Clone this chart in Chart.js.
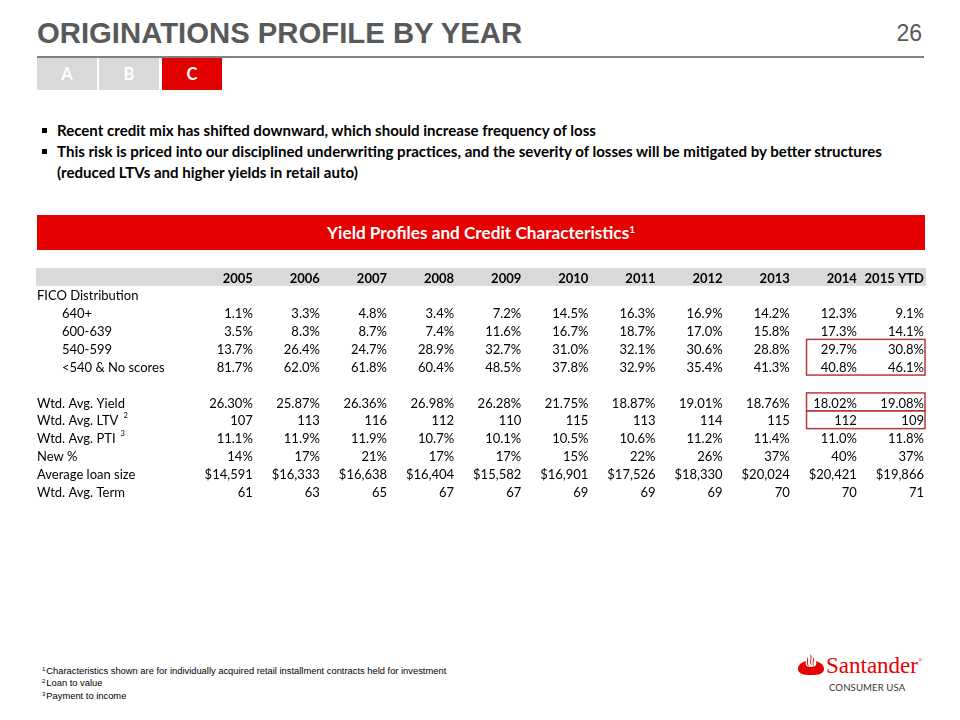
<!DOCTYPE html>
<html>
<head>
<meta charset="utf-8">
<title>Originations Profile by Year</title>
<script src="https://cdn.jsdelivr.net/npm/chart.js@4.4.1/dist/chart.umd.min.js"></script>
<style>
  html, body { margin: 0; padding: 0; background: #fff; }
  body { width: 960px; height: 720px; position: relative; overflow: hidden; font-family: Lato, "Open Sans", sans-serif; }
  .abs { position: absolute; white-space: nowrap; }
  .title { left: 37px; top: 18px; font: bold 29.3px/30px "Liberation Sans", Arial, sans-serif; color: #595959; }
  .pagenum { right: 38px; top: 21px; font: 23px/24px "Liberation Sans", Arial, sans-serif; color: #595959; }
  .rule { left: 37px; top: 56px; width: 887px; height: 2px; background: #808080; }
  .tab { top: 58px; width: 60px; height: 32px; background: #d9d9d9; color: #fff; font: bold 16.5px/32px Lato, sans-serif; text-align: center; }
  .tab.on { background: #e30000; }
  .bullet { left: 57px; font: bold 15.05px/21px Lato, sans-serif; color: #000; }
  .bullet .sq { position: absolute; left: -15px; top: 8px; width: 5px; height: 5px; background: #000; }
  .band { left: 37px; top: 215px; width: 888px; height: 35px; background: #e60000; color: #fff; font: bold 17.2px/35px Lato, sans-serif; text-align: center; }
  .band sup { font-size: 10px; vertical-align: 6px; line-height: 0; }
  #wrap { position: absolute; left: 36px; top: 268px; width: 890px; height: 232px; }
  .notes { left: 42px; top: 665px; font: 9.35px/12.4px "Liberation Sans", Arial, sans-serif; color: #000; }
  .notes sup { font-size: 6px; vertical-align: 3px; line-height: 0; margin-right: 1px; }
  .brand { left: 826px; top: 653px; font: 23px/26px "Liberation Serif", serif; color: #e60000; }
  .brand sup { font-size: 6px; vertical-align: 11px; line-height: 0; }
  .consumer { left: 829px; top: 682px; font: 9.6px/12px Lato, sans-serif; color: #333; letter-spacing: 0.1px; }
  .flame { left: 797px; top: 654px; }
</style>
</head>
<body>
<div class="abs title">ORIGINATIONS PROFILE BY YEAR</div>
<div class="abs pagenum">26</div>
<div class="abs rule"></div>
<div class="abs tab" style="left:37px">A</div>
<div class="abs tab" style="left:99px">B</div>
<div class="abs tab on" style="left:162px">C</div>

<div class="abs bullet" style="top:120px"><span class="sq"></span>Recent credit mix has shifted downward, which should increase frequency of loss</div>
<div class="abs bullet" style="top:141px"><span class="sq"></span>This risk is priced into our disciplined underwriting practices, and the severity of losses will be mitigated by better structures</div>
<div class="abs bullet" style="top:162px">(reduced LTVs and higher yields in retail auto)</div>

<div class="abs band">Yield Profiles and Credit Characteristics<sup>1</sup></div>

<div id="wrap"><canvas id="tabela" width="890" height="232"></canvas></div>

<div class="abs notes">
  <div><sup>1</sup>Characteristics shown are for individually acquired retail installment contracts held for investment</div>
  <div><sup>2</sup>Loan to value</div>
  <div><sup>3</sup>Payment to income</div>
</div>

<svg class="abs flame" width="28" height="22" viewBox="0 0 28 22">
  <path fill="#e60000" d="M1 15 C1 10 6 8 9 7 C8 10 9 13 14 13 C19 13 20 10 19 7 C22 8 27 10 27 15 C27 20 21 21 14 21 C7 21 1 20 1 15 Z"/>
  <path fill="#e60000" d="M13 0 C17 3 12 6 15 11 C11 9 15 5 13 0 Z"/>
  <path fill="#e60000" d="M10 3 C13 6 9 8 12 12 C8 10 11 6 10 3 Z"/>
  <path fill="#e60000" d="M16 3 C19 6 15 8 17 12 C14 10 17 6 16 3 Z"/>
</svg>
<div class="abs brand">Santander<sup>®</sup></div>
<div class="abs consumer">CONSUMER USA</div>

<script>
const years = ['2005', '2006', '2007', '2008', '2009', '2010', '2011', '2012', '2013', '2014', '2015 YTD'];

// linhas da tabela, de cima para baixo ('' = linha em branco)
const rowLabels = ['Year', 'FICO Distribution', '640+', '600-639', '540-599', '<540 & No scores', '',
  'Wtd. Avg. Yield', 'Wtd. Avg. LTV', 'Wtd. Avg. PTI', 'New %', 'Average loan size', 'Wtd. Avg. Term'];
const indented = ['640+', '600-639', '540-599', '<540 & No scores'];
const footRefs = { 'Wtd. Avg. LTV': '2', 'Wtd. Avg. PTI': '3' };

const fico640 = [1.1, 3.3, 4.8, 3.4, 7.2, 14.5, 16.3, 16.9, 14.2, 12.3, 9.1];
const fico600 = [3.5, 8.3, 8.7, 7.4, 11.6, 16.7, 18.7, 17.0, 15.8, 17.3, 14.1];
const fico540 = [13.7, 26.4, 24.7, 28.9, 32.7, 31.0, 32.1, 30.6, 28.8, 29.7, 30.8];
const ficoBelow540 = [81.7, 62.0, 61.8, 60.4, 48.5, 37.8, 32.9, 35.4, 41.3, 40.8, 46.1];
const avgYield = [26.30, 25.87, 26.36, 26.98, 26.28, 21.75, 18.87, 19.01, 18.76, 18.02, 19.08];
const avgLtv = [107, 113, 116, 112, 110, 115, 113, 114, 115, 112, 109];
const avgPti = [11.1, 11.9, 11.9, 10.7, 10.1, 10.5, 10.6, 11.2, 11.4, 11.0, 11.8];
const newPct = [14, 17, 21, 17, 17, 15, 22, 26, 37, 40, 37];
const avgLoanSize = [14591, 16333, 16638, 16404, 15582, 16901, 17526, 18330, 20024, 20421, 19866];
const avgTerm = [61, 63, 65, 67, 67, 69, 69, 69, 70, 70, 71];

// caixas vermelhas (2014 e 2015 YTD)
const highlights = [
  { rows: ['540-599', '<540 & No scores'], cols: [9, 10] },
  { rows: ['Wtd. Avg. Yield'], cols: [9, 10] },
  { rows: ['Wtd. Avg. LTV'], cols: [9, 10] }
];

const pct1 = v => v.toFixed(1) + '%';
const pct2 = v => v.toFixed(2) + '%';
const pct0 = v => v.toFixed(0) + '%';
const int = v => String(v);
const usd = v => '$' + v.toLocaleString('en-US');

const series = [
  ['640+', fico640, pct1],
  ['600-639', fico600, pct1],
  ['540-599', fico540, pct1],
  ['<540 & No scores', ficoBelow540, pct1],
  ['Wtd. Avg. Yield', avgYield, pct2],
  ['Wtd. Avg. LTV', avgLtv, int],
  ['Wtd. Avg. PTI', avgPti, pct1],
  ['New %', newPct, pct0],
  ['Average loan size', avgLoanSize, usd],
  ['Wtd. Avg. Term', avgTerm, int]
];

const FONT = 'Lato, "Open Sans", sans-serif';
const SIZE = 13;

const tableText = {
  id: 'tableText',
  beforeDatasetsDraw(chart) {
    const { ctx, chartArea, scales: { x, y } } = chart;
    const pitch = chartArea.height / rowLabels.length;
    const hy = y.getPixelForValue(0);
    ctx.save();
    ctx.fillStyle = '#d9d9d9';
    ctx.fillRect(chartArea.left, hy - pitch / 2, chartArea.width, pitch);

    ctx.fillStyle = '#000';
    ctx.textBaseline = 'alphabetic';
    const base = 1 + SIZE * 0.36;

    // cabeçalho com os anos
    ctx.font = 'bold ' + SIZE + 'px ' + FONT;
    ctx.textAlign = 'right';
    years.forEach((yr, i) => ctx.fillText(yr, x.getPixelForValue(i), hy + base));

    // rótulos das linhas
    ctx.textAlign = 'left';
    rowLabels.forEach((lab, r) => {
      if (r === 0 || lab === '') return;
      const py = y.getPixelForValue(r) + base;
      const px = chartArea.left + 1 + (indented.includes(lab) ? 25 : 0);
      ctx.font = SIZE + 'px ' + FONT;
      ctx.fillText(lab, px, py);
      if (footRefs[lab]) {
        const w = ctx.measureText(lab).width;
        ctx.font = '7.5px ' + FONT;
        ctx.fillText(footRefs[lab], px + w + 5, py - 7);
      }
    });
    ctx.restore();
  },
  afterDatasetsDraw(chart) {
    const { ctx, scales: { x, y }, chartArea } = chart;
    const pitch = chartArea.height / rowLabels.length;
    const unit = x.getPixelForValue(1) - x.getPixelForValue(0);
    ctx.save();
    ctx.fillStyle = '#000';
    ctx.font = SIZE + 'px ' + FONT;
    ctx.textAlign = 'right';
    ctx.textBaseline = 'alphabetic';
    chart.data.datasets.forEach((ds, d) => {
      chart.getDatasetMeta(d).data.forEach((pt, i) => {
        ctx.fillText(ds.fmt(ds.data[i].v), pt.x, pt.y + 1 + SIZE * 0.36);
      });
    });

    ctx.strokeStyle = '#b8393b';
    ctx.lineWidth = 1.5;
    highlights.forEach(h => {
      const r0 = rowLabels.indexOf(h.rows[0]);
      const r1 = rowLabels.indexOf(h.rows[h.rows.length - 1]);
      const left = x.getPixelForValue(h.cols[0]) - unit * 0.75;
      const right = Math.min(x.getPixelForValue(h.cols[1]) + 2, chartArea.right - 1);
      const top = y.getPixelForValue(r0) - pitch / 2;
      const bottom = y.getPixelForValue(r1) + pitch / 2;
      ctx.strokeRect(left, top, right - left, bottom - top);
    });
    ctx.restore();
  }
};

new Chart(document.getElementById('tabela'), {
  type: 'line',
  data: {
    datasets: series.map(([label, values, fmt]) => ({
      label: label,
      fmt: fmt,
      data: values.map((v, i) => ({ x: i, y: label, v: v })),
      showLine: false,
      pointRadius: 0,
      pointHoverRadius: 0,
      borderWidth: 0
    }))
  },
  options: {
    responsive: false,
    animation: false,
    events: [],
    layout: { padding: 0, autoPadding: false },
    plugins: { legend: { display: false }, tooltip: { enabled: false } },
    scales: {
      x: { type: 'linear', min: -3.23, max: 10.03, display: false },
      y: { type: 'category', labels: rowLabels, offset: true, display: false }
    }
  },
  plugins: [tableText]
});
</script>
</body>
</html>
